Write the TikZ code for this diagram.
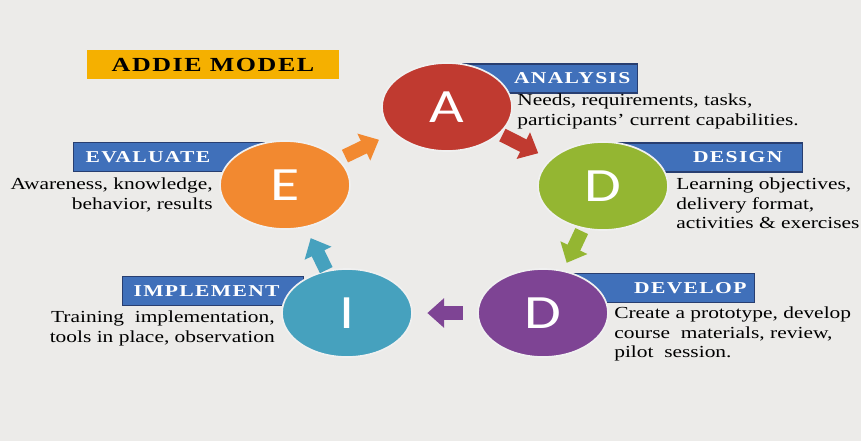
\documentclass[tikz,border=0pt]{standalone}
\usepackage{fontspec}
\setmainfont[FakeStretch=1.27]{Liberation Serif}
\newfontfamily\faixafont[FakeStretch=1.3,LetterSpace=8]{Liberation Serif}
\newfontfamily\letrafont[FakeStretch=1.25]{Carlito}
\usepackage{tikz}
\usetikzlibrary{shapes.geometric,arrows.meta,calc}
\definecolor{fundo}{RGB}{236,235,233}
\definecolor{ouro}{RGB}{245,176,0}
\definecolor{azul}{RGB}{64,112,186}
\definecolor{azulescuro}{RGB}{40,62,112}
\definecolor{vermelho}{RGB}{192,58,48}
\definecolor{laranja}{RGB}{242,137,48}
\definecolor{verde}{RGB}{148,182,50}
\definecolor{roxo}{RGB}{126,68,148}
\definecolor{turquesa}{RGB}{70,161,190}

\begin{document}
\begin{tikzpicture}[x=0.025cm,y=-0.025cm]
\tikzstyle{etapa}=[ellipse, minimum width=3.25cm, minimum height=2.2cm, draw=white!88!gray, line width=1.2pt, text=white, font=\letrafont\fontsize{34}{34}\selectfont]
\tikzstyle{faixa}=[rectangle, fill=azul, draw=azulescuro, line width=0.8pt, minimum height=0.725cm, inner ysep=0pt, text=white, font=\faixafont\bfseries\fontsize{11.8}{12}\selectfont]
\tikzstyle{descricao}=[inner sep=0pt, font=\fontsize{12}{13.8}\selectfont]
\tikzstyle{seta}=[line width=0.35cm, -{Triangle[length=0.42cm, width=0.72cm]}]
 \fill[fundo] (0,0) rectangle (861,441);
 \useasboundingbox (0,0) rectangle (861,441);
 \node[fill=ouro, minimum width=6.3cm, minimum height=0.725cm, inner sep=0pt,
       font=\faixafont\bfseries\fontsize{14.2}{15}\selectfont] (titulo) at (213,64.5) {ADDIE MODEL};
 \node[faixa, anchor=east, inner xsep=0.175cm, text width=4.025cm, align=right] (fanalise) at (638,78.5) {ANALYSIS};
 \node[faixa, anchor=east, inner xsep=0.5cm, text width=3.65cm, align=right] (fprojeto) at (803,157.5) {DESIGN};
 \node[faixa, anchor=east, inner xsep=0.2cm, text width=4.15cm, align=right] (fdesenv) at (755,288) {DEVELOP};
 \node[faixa, anchor=west, inner xsep=0.275cm, text width=3.975cm, align=left] (fimplem) at (122,291) {IMPLEMENT};
 \node[faixa, anchor=west, inner xsep=0.3cm, text width=4.25cm, align=left] (faval) at (73,157) {EVALUATE};
 \node[etapa, fill=vermelho] (analise) at (447,107) {A};
 \node[etapa, fill=verde] (projeto) at (603,186) {D};
 \node[etapa, fill=roxo] (desenv) at (543,313) {D};
 \node[etapa, fill=turquesa] (implem) at (347,313) {I};
 \node[etapa, fill=laranja] (aval) at (285,185) {E};
 \draw[seta, laranja] ($(aval)!0.37!(analise)$) -- ($(aval)!0.58!(analise)$);
 \draw[seta, vermelho] ($(analise)!0.355!(projeto)$) -- ($(analise)!0.585!(projeto)$);
 \draw[seta, verde] ($(projeto)!0.355!(desenv)$) -- ($(projeto)!0.605!(desenv)$);
 \draw[seta, roxo] ($(desenv)!0.41!(implem)$) -- ($(desenv)!0.59!(implem)$);
 \draw[seta, turquesa] ($(implem)!0.335!(aval)$) -- ($(implem)!0.585!(aval)$);
 \node[descricao, anchor=north west, align=left] (danalise) at (517,94)
      {Needs, requirements, tasks,\\participants’ current capabilities.};
 \node[descricao, anchor=north west, align=left] (dprojeto) at (676,178)
      {Learning objectives,\\delivery format,\\activities \& exercises};
 \node[descricao, anchor=north west, align=left] (ddesenv) at (614,307)
      {Create a prototype, develop\\course \ materials, review,\\pilot \ session.};
 \node[descricao, anchor=north east, align=right] (dimplem) at (275,311)
      {Training \ implementation,\\tools in place, observation};
 \node[descricao, anchor=north east, align=right] (daval) at (213,178)
      {Awareness, knowledge,\\behavior, results};
\end{tikzpicture}
\end{document}
